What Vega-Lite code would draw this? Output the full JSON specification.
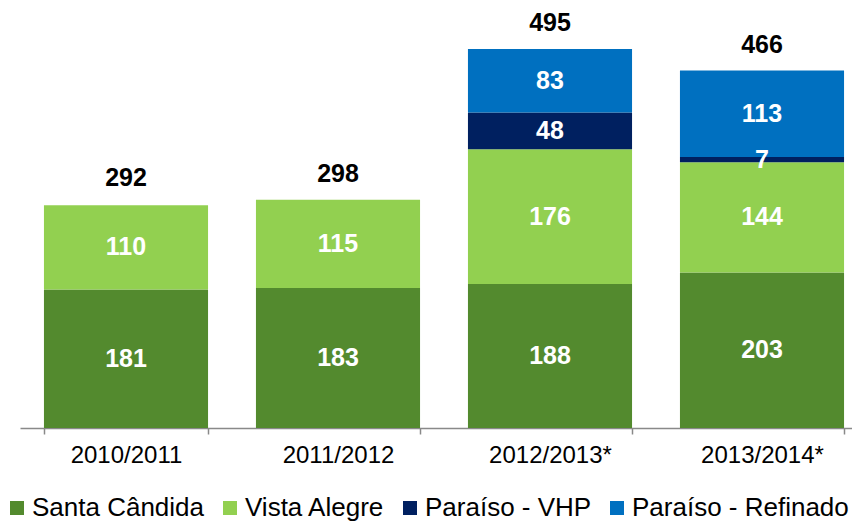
{
  "$schema": "https://vega.github.io/schema/vega-lite/v6.json",
  "width": 848,
  "height": 428,
  "autosize": "none",
  "padding": {"left": 20, "top": 0, "right": 0, "bottom": 94},
  "background": "white",
  "config": {"view": {"stroke": null}, "font": "Liberation Sans"},
  "datasets": {
    "parts": [
      {"year": "2010/2011", "series": "Santa Cândida", "k": 1, "value": 181},
      {"year": "2010/2011", "series": "Vista Alegre", "k": 2, "value": 110},
      {"year": "2011/2012", "series": "Santa Cândida", "k": 1, "value": 183},
      {"year": "2011/2012", "series": "Vista Alegre", "k": 2, "value": 115},
      {"year": "2012/2013*", "series": "Santa Cândida", "k": 1, "value": 188},
      {"year": "2012/2013*", "series": "Vista Alegre", "k": 2, "value": 176},
      {"year": "2012/2013*", "series": "Paraíso - VHP", "k": 3, "value": 48},
      {"year": "2012/2013*", "series": "Paraíso - Refinado", "k": 4, "value": 83},
      {"year": "2013/2014*", "series": "Santa Cândida", "k": 1, "value": 203},
      {"year": "2013/2014*", "series": "Vista Alegre", "k": 2, "value": 144},
      {"year": "2013/2014*", "series": "Paraíso - VHP", "k": 3, "value": 7},
      {"year": "2013/2014*", "series": "Paraíso - Refinado", "k": 4, "value": 113}
    ],
    "totals": [
      {"year": "2010/2011", "total": 292},
      {"year": "2011/2012", "total": 298},
      {"year": "2012/2013*", "total": 495},
      {"year": "2013/2014*", "total": 466}
    ]
  },
  "layer": [
    {
      "data": {"name": "parts"},
      "transform": [
        {"stack": "value", "groupby": ["year"], "sort": [{"field": "k", "order": "ascending"}], "as": ["v0", "v1"]},
        {"calculate": "(datum.v0 + datum.v1) / 2", "as": "mid"}
      ],
      "layer": [
        {
          "mark": {"type": "bar"},
          "encoding": {
            "x": {"field": "year", "type": "nominal", "sort": null,
              "scale": {"paddingInner": 0.226, "paddingOuter": 0.113},
              "axis": {"title": null, "labelAngle": 0, "labelFontSize": 24, "labelColor": "black",
                "labelFont": "Liberation Sans", "domainColor": "#898989", "domainWidth": 1.5,
                "tickColor": "#898989", "tickWidth": 1.5, "tickSize": 6, "tickBand": "extent", "labelPadding": 9}},
            "y": {"field": "v0", "type": "quantitative", "scale": {"domain": [0, 559], "nice": false}, "axis": null},
            "y2": {"field": "v1"},
            "color": {"field": "series", "type": "nominal",
              "scale": {"domain": ["Santa Cândida", "Vista Alegre", "Paraíso - VHP", "Paraíso - Refinado"],
                "range": ["#538A2E", "#92D050", "#002060", "#0070C0"]},
              "legend": {"title": null, "orient": "none", "direction": "horizontal", "legendX": -16, "legendY": 495,
                "symbolType": "square", "symbolSize": 196, "symbolStrokeWidth": 0, "symbolOpacity": 1,
                "labelFontSize": 26, "labelFont": "Liberation Sans", "labelColor": "black", "labelOffset": 2,
                "columnPadding": 12, "padding": 0, "labelLimit": 400}}
          }
        },
        {
          "mark": {"type": "text", "color": "white", "fontWeight": "bold", "fontSize": 25, "font": "Liberation Sans", "baseline": "middle"},
          "encoding": {
            "x": {"field": "year", "type": "nominal", "sort": null},
            "y": {"field": "mid", "type": "quantitative"},
            "text": {"field": "value", "type": "quantitative"}
          }
        }
      ]
    },
    {
      "data": {"name": "totals"},
      "mark": {"type": "text", "color": "black", "fontWeight": "bold", "fontSize": 25, "font": "Liberation Sans", "baseline": "middle", "dy": -26},
      "encoding": {
        "x": {"field": "year", "type": "nominal", "sort": null},
        "y": {"field": "total", "type": "quantitative"},
        "text": {"field": "total", "type": "quantitative"}
      }
    }
  ]
}
